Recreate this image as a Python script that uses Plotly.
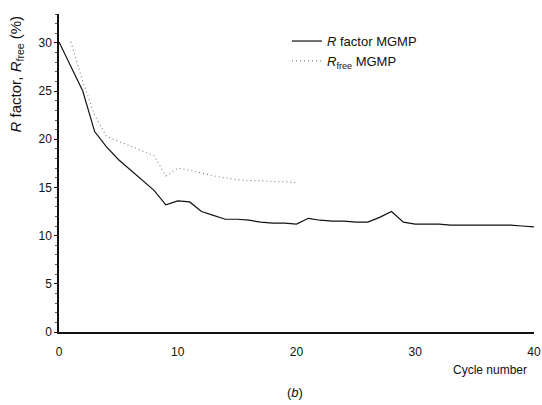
import plotly.graph_objects as go

cycles_r = list(range(0, 41))
r_factor = [30.1, 27.5, 25.0, 20.8, 19.2, 17.9, 16.8, 15.7, 14.7, 13.2, 13.6,
            13.5, 12.5, 12.1, 11.7, 11.7, 11.6, 11.4, 11.3, 11.3, 11.2,
            11.8, 11.6, 11.5, 11.5, 11.4, 11.4, 11.9, 12.5, 11.4, 11.2,
            11.2, 11.2, 11.1, 11.1, 11.1, 11.1, 11.1, 11.1, 11.0, 10.9]
cycles_free = list(range(1, 21))
r_free = [30.1, 26.0, 22.5, 20.3, 19.8, 19.3, 18.8, 18.3, 16.2, 17.0,
          16.8, 16.5, 16.2, 16.0, 15.8, 15.7, 15.7, 15.6, 15.6, 15.5]

x_ticks = [0, 10, 20, 30, 40]
y_ticks = [0, 5, 10, 15, 20, 25, 30]

font = "Liberation Sans, Arial, sans-serif"

fig = go.Figure()
fig.add_trace(go.Scatter(x=cycles_r, y=r_factor, mode="lines",
                         name="<i>R</i> factor MGMP",
                         line=dict(color="#111111", width=1.2)))
fig.add_trace(go.Scatter(x=cycles_free, y=r_free, mode="lines",
                         name="<i>R</i><sub>free</sub> MGMP",
                         line=dict(color="#888888", width=1.2, dash="1px,3px")))

fig.update_layout(
    width=542, height=405,
    margin=dict(l=59, r=8, t=14, b=73, autoexpand=False),
    paper_bgcolor="white", plot_bgcolor="white",
    font=dict(family=font, size=12, color="#111111"),
    showlegend=True,
    legend=dict(x=0.48, y=0.962, xanchor="left", yanchor="top",
                bgcolor="rgba(0,0,0,0)", font=dict(size=13),
                tracegroupgap=0, itemwidth=30),
    xaxis=dict(range=[0, 40], tickvals=x_ticks, showgrid=False, zeroline=False,
               showline=True, linecolor="#111111", linewidth=1.5,
               ticks="", ticklabelstandoff=8, automargin=False,
               tickfont=dict(size=12)),
    yaxis=dict(range=[0, 33], tickvals=y_ticks, showgrid=False, zeroline=False,
               showline=True, linecolor="#111111", linewidth=1.5,
               ticks="outside", ticklen=3, tickcolor="#111111", automargin=False,
               tickfont=dict(size=12),
               minor=dict(ticks="outside", ticklen=2, dtick=1, tickcolor="#555555")),
    annotations=[
        dict(text="<i>R</i> factor, <i>R</i><sub>free</sub> (%)", xref="paper", yref="paper",
             x=(16 - 59) / 475, y=0.81, xanchor="center", yanchor="middle",
             textangle=-90, showarrow=False, font=dict(size=15)),
        dict(text="Cycle number", xref="paper", yref="paper",
             x=0.99, y=-0.12, xanchor="right", yanchor="middle", showarrow=False,
             font=dict(size=12)),
        dict(text="(<i>b</i>)", xref="paper", yref="paper",
             x=(295 - 59) / 475, y=-0.19, xanchor="center", yanchor="middle",
             showarrow=False, font=dict(size=13)),
    ],
)

fig.write_html("out.html")
